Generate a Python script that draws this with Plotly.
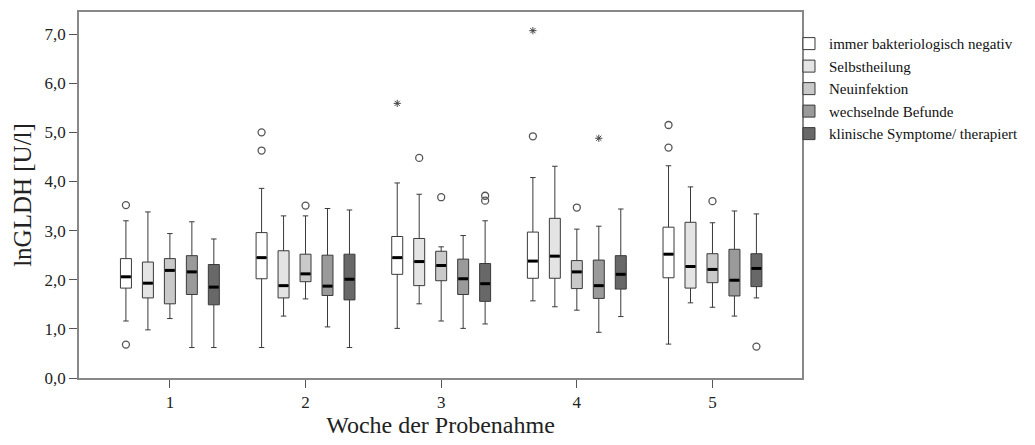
import plotly.graph_objects as go

weeks = [1, 2, 3, 4, 5]
week_labels = ["1", "2", "3", "4", "5"]
groups = ["immer bakteriologisch negativ", "Selbstheilung", "Neuinfektion",
          "wechselnde Befunde", "klinische Symptome/ therapiert"]
fills = ["#ffffff", "#e4e4e4", "#c9c9c9", "#9a9a9a", "#686868"]

# per group: values over weeks 1..5
lower = [
    [1.16, 0.62, 1.01, 1.57, 0.69],
    [0.98, 1.26, 1.51, 1.45, 1.53],
    [1.21, 1.61, 1.16, 1.38, 1.44],
    [0.62, 1.04, 1.01, 0.93, 1.26],
    [0.62, 0.62, 1.10, 1.25, 1.63],
]
q1 = [
    [1.83, 2.02, 2.11, 2.03, 2.04],
    [1.63, 1.63, 1.88, 2.03, 1.83],
    [1.51, 1.96, 1.98, 1.82, 1.94],
    [1.70, 1.68, 1.70, 1.62, 1.67],
    [1.49, 1.59, 1.56, 1.81, 1.86],
]
median = [
    [2.06, 2.45, 2.45, 2.38, 2.52],
    [1.93, 1.88, 2.37, 2.48, 2.27],
    [2.19, 2.12, 2.29, 2.16, 2.21],
    [2.16, 1.87, 2.02, 1.88, 1.99],
    [1.85, 2.01, 1.92, 2.11, 2.23],
]
q3 = [
    [2.43, 2.96, 2.88, 2.97, 3.07],
    [2.36, 2.59, 2.84, 3.25, 3.17],
    [2.43, 2.52, 2.58, 2.39, 2.53],
    [2.49, 2.50, 2.42, 2.40, 2.62],
    [2.31, 2.52, 2.33, 2.49, 2.53],
]
upper = [
    [3.20, 3.86, 3.97, 4.08, 4.32],
    [3.38, 3.30, 3.74, 4.31, 3.89],
    [2.94, 3.30, 2.67, 3.03, 3.16],
    [3.18, 3.45, 2.90, 3.09, 3.40],
    [2.83, 3.42, 3.20, 3.44, 3.34],
]
# outliers (circles): week, value per group
out_week = [
    [1, 1, 2, 2, 4, 5, 5],
    [3],
    [2, 3, 4, 5],
    [],
    [3, 3, 5],
]
out_val = [
    [3.52, 0.68, 5.00, 4.63, 4.92, 5.15, 4.69],
    [4.48],
    [3.51, 3.68, 3.47, 3.60],
    [],
    [3.71, 3.61, 0.64],
]
# extremes (stars)
ext_week = [[3, 4], [], [], [4], []]
ext_val = [[5.59, 7.07], [], [], [4.88], []]

step = 0.162
bw = 0.081
font = "Liberation Serif"

fig = go.Figure()
for i, g in enumerate(groups):
    off = (i - 2) * step
    xs = [w + off for w in weeks]
    fig.add_trace(go.Box(
        name=g, x=xs, q1=q1[i], median=median[i], q3=q3[i],
        lowerfence=lower[i], upperfence=upper[i],
        width=bw, whiskerwidth=0.5, fillcolor=fills[i],
        line=dict(color="#3a3a3a", width=1), boxpoints=False,
        hoverinfo="skip",
    ))
for i, g in enumerate(groups):
    off = (i - 2) * step
    fig.add_trace(go.Scatter(
        x=[w + off for w in weeks], y=median[i], mode="markers",
        marker=dict(symbol="line-ew", size=7, line=dict(color="black", width=3)),
        showlegend=False, hoverinfo="skip"))
    if out_week[i]:
        fig.add_trace(go.Scatter(
            x=[w + off for w in out_week[i]], y=out_val[i], mode="markers",
            marker=dict(symbol="circle-open", size=7, color="#555555",
                        line=dict(width=1.3)),
            showlegend=False, hoverinfo="skip"))
    if ext_week[i]:
        fig.add_trace(go.Scatter(
            x=[w + off for w in ext_week[i]], y=ext_val[i], mode="markers",
            marker=dict(symbol="asterisk-open", size=6, color="#444444",
                        line=dict(width=1)),
            showlegend=False, hoverinfo="skip"))

fig.update_layout(
    width=1027, height=437,
    margin=dict(l=71, r=233, t=4, b=67),
    paper_bgcolor="white", plot_bgcolor="white",
    font=dict(family=font, size=15, color="#222222"),
    boxmode="overlay",
    showlegend=True,
    legend=dict(x=0.982, y=0.958, xanchor="left", yanchor="top",
                font=dict(family=font, size=15, color="#111111"),
                bgcolor="rgba(0,0,0,0)", tracegroupgap=0, itemwidth=30),
)
fig.update_xaxes(
    range=[0.33, 5.66], tickvals=weeks, ticktext=week_labels,
    ticks="outside", ticklen=8, tickcolor="#555555", tickwidth=1,
    showline=True, linecolor="#888888", linewidth=1.5, mirror=True,
    showgrid=False, zeroline=False, automargin=False,
    tickfont=dict(family=font, size=17, color="#222222"),
    title=dict(text="Woche der Probenahme", font=dict(family=font, size=24, color="#222222"),
               standoff=2),
)
fig.update_yaxes(
    range=[0, 7.45], tickvals=[0, 1, 2, 3, 4, 5, 6, 7],
    ticktext=["0,0", "1,0", "2,0", "3,0", "4,0", "5,0", "6,0", "7,0"],
    ticks="outside", ticklen=8, tickcolor="#555555", tickwidth=1,
    showline=True, linecolor="#888888", linewidth=1.5, mirror=True,
    showgrid=False, zeroline=False, automargin=False,
    tickfont=dict(family=font, size=17, color="#222222"),
    title=dict(text="lnGLDH [U/l]", font=dict(family=font, size=25, color="#222222"),
               standoff=6),
)

fig.write_html("out.html")
